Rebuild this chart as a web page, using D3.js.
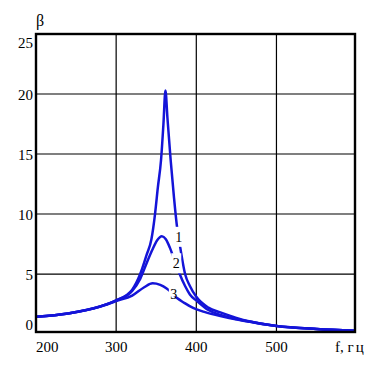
<!DOCTYPE html>
<html>
<head>
<meta charset="utf-8">
<script src="https://cdn.jsdelivr.net/npm/d3@7"></script>
<style>
  body { margin: 0; background: #fff; }
  svg { display: block; }
</style>
</head>
<body>
<div id="chart"></div>
<script>
// frequencies (Hz)
const freq1 = [200, 240, 280, 300, 320, 330, 338, 344, 348.5, 352, 356, 359, 361.5, 364, 368, 372, 376, 380, 386, 392, 400, 415, 430, 450, 467, 500, 550, 598];
const beta1 = [1.45, 1.72, 2.3, 2.8, 3.7, 5.0, 6.6, 7.9, 10.0, 12.2, 14.5, 17.5, 20.3, 18.0, 14.5, 11.5, 8.9, 7.2, 5.0, 4.0, 3.1, 2.2, 1.8, 1.35, 1.05, 0.68, 0.42, 0.28];

const freq2 = [200, 240, 280, 300, 320, 330, 338, 345, 351, 357, 362, 367, 372, 379, 386, 392, 400, 415, 430, 450, 467, 500, 550, 598];
const beta2 = [1.45, 1.72, 2.3, 2.8, 3.6, 4.6, 5.9, 7.0, 7.8, 8.15, 7.9, 7.2, 6.3, 5.05, 4.0, 3.3, 2.8, 2.0, 1.6, 1.25, 1.02, 0.67, 0.42, 0.28];

const freq3 = [200, 240, 280, 300, 320, 335, 345.5, 355, 363, 370, 376, 385, 396, 410, 430, 454, 467, 500, 550, 598];
const beta3 = [1.45, 1.72, 2.28, 2.75, 3.2, 3.9, 4.23, 4.1, 3.8, 3.4, 3.0, 2.6, 2.17, 1.85, 1.5, 1.17, 1.02, 0.67, 0.42, 0.28];

const xTicks = [200, 300, 400, 500];
const yTicks = [0, 5, 10, 15, 20, 25];

const curveNames = ["1", "2", "3"];
const labelFreq = [378, 375, 372];
const labelBeta = [8.1, 5.9, 3.3];

const width = 386;
const height = 367;
const serif = "'Liberation Serif', 'Times New Roman', 'DejaVu Serif', serif";

const xScale = d3.scaleLinear()
                 .domain([200, 598])
                 .range([36, 355]);

const yScale = d3.scaleLinear()
                 .domain([0.17, 25])
                 .range([332, 34]);

const svg = d3.select("#chart")
              .append("svg")
              .attr("width", width)
              .attr("height", height)
              .attr("font-family", serif);

// grid
svg.selectAll(".vgrid")
   .data(xTicks.slice(1))
   .enter()
   .append("line")
   .attr("x1", d => xScale(d))
   .attr("x2", d => xScale(d))
   .attr("y1", yScale(25))
   .attr("y2", yScale(0.17))
   .attr("stroke", "#000")
   .attr("stroke-width", 1.2);

svg.selectAll(".hgrid")
   .data(yTicks.slice(1, -1))
   .enter()
   .append("line")
   .attr("x1", xScale(200))
   .attr("x2", xScale(598))
   .attr("y1", d => yScale(d))
   .attr("y2", d => yScale(d))
   .attr("stroke", "#000")
   .attr("stroke-width", 1.2);

// curves
const series = [
  freq1.map((f, i) => [f, beta1[i]]),
  freq2.map((f, i) => [f, beta2[i]]),
  freq3.map((f, i) => [f, beta3[i]])
];

const line = d3.line()
               .x(d => xScale(d[0]))
               .y(d => yScale(d[1]))
               .curve(d3.curveMonotoneX);

svg.selectAll(".curve")
   .data(series)
   .enter()
   .append("path")
   .attr("d", line)
   .attr("fill", "none")
   .attr("stroke", "#1414d8")
   .attr("stroke-width", 2.5);

// white patches where the curve numbers sit
svg.selectAll(".mask")
   .data(curveNames)
   .enter()
   .append("rect")
   .attr("x", (d, i) => xScale(labelFreq[i]) - 5)
   .attr("y", (d, i) => yScale(labelBeta[i]) - 10)
   .attr("width", 10)
   .attr("height", (d, i) => i == 2 ? 12 : 20)
   .attr("fill", "#fff");

svg.selectAll(".clabel")
   .data(curveNames)
   .enter()
   .append("text")
   .attr("x", (d, i) => xScale(labelFreq[i]))
   .attr("y", (d, i) => yScale(labelBeta[i]) + 5)
   .attr("text-anchor", "middle")
   .attr("font-size", 14)
   .attr("fill", "#000")
   .text(d => d);

// frame
svg.append("rect")
   .attr("x", xScale(200))
   .attr("y", yScale(25))
   .attr("width", xScale(598) - xScale(200))
   .attr("height", yScale(0.17) - yScale(25))
   .attr("fill", "none")
   .attr("stroke", "#000")
   .attr("stroke-width", 2.4);

// tick labels
svg.selectAll(".ylab")
   .data(yTicks)
   .enter()
   .append("text")
   .attr("x", 33)
   .attr("y", d => d == 25 ? yScale(d) + 14 : d == 0 ? yScale(0.17) - 2 : yScale(d) + 5.5)
   .attr("text-anchor", "end")
   .attr("font-size", 15)
   .attr("fill", "#000")
   .text(d => d);

svg.selectAll(".xlab")
   .data(xTicks)
   .enter()
   .append("text")
   .attr("x", d => xScale(d))
   .attr("y", 351.5)
   .attr("text-anchor", d => d == 200 ? "start" : "middle")
   .attr("font-size", 15)
   .attr("fill", "#000")
   .text(d => d);

const unit = svg.append("text")
                .attr("x", 335)
                .attr("y", 351.5)
                .attr("font-size", 15)
                .attr("fill", "#000");
unit.append("tspan").text("f, ");
unit.append("tspan").attr("letter-spacing", 2).text("гц");

svg.append("text")
   .attr("x", 36)
   .attr("y", 26)
   .attr("font-size", 16)
   .attr("fill", "#000")
   .text("β");
</script>
</body>
</html>
